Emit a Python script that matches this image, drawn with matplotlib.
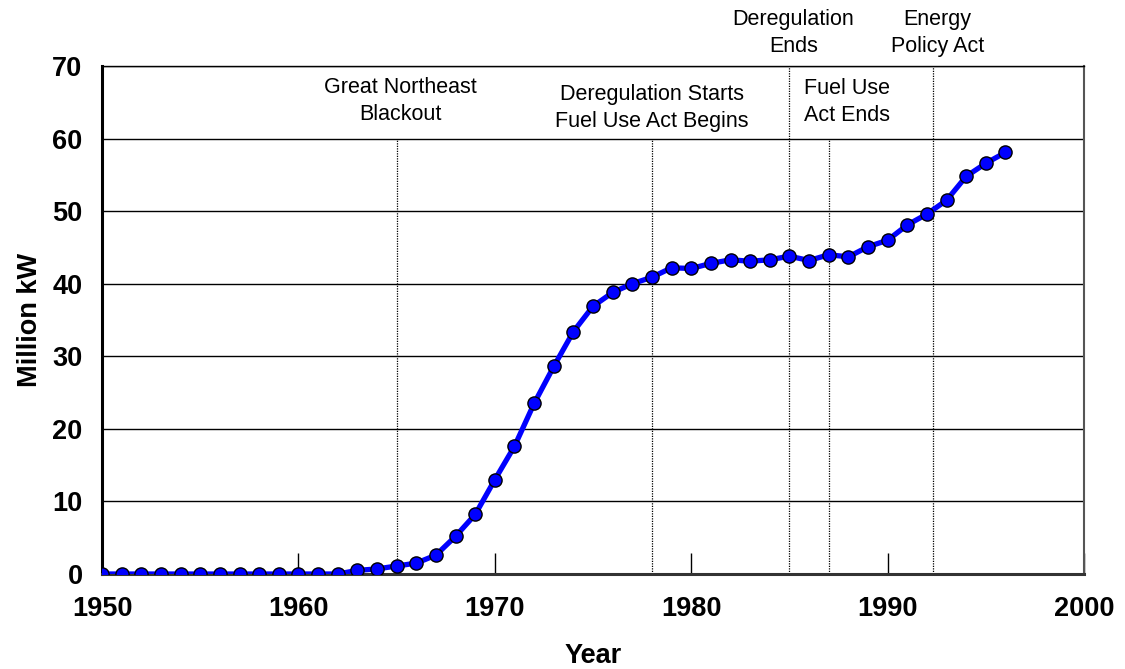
import matplotlib.pyplot as plt

plt.rcParams['font.family'] = ['Liberation Sans', 'DejaVu Sans']

# Dados
anos = list(range(1950, 1997))
capacidade = [0.0, 0.0, 0.0, 0.0, 0.0, 0.0, 0.0, 0.0, 0.0, 0.0,
              0.0, 0.0, 0.0, 0.5, 0.7, 1.1, 1.5, 2.6, 5.2, 8.2,
              13.0, 17.6, 23.5, 28.6, 33.4, 36.9, 38.8, 40.0, 40.9, 42.2,
              42.1, 42.8, 43.3, 43.1, 43.3, 43.8, 43.2, 44.0, 43.7, 45.1,
              46.0, 48.1, 49.6, 51.5, 54.8, 56.6, 58.1]

eventos_anos = [1965, 1978, 1985, 1987, 1992.3]
eventos_topo = [60, 60, 70, 60, 70]
eventos_textos = ['Great Northeast\nBlackout', 'Deregulation Starts\nFuel Use Act Begins',
                  'Deregulation\nEnds', 'Fuel Use\nAct Ends', 'Energy\nPolicy Act']
textos_x = [1965.2, 1978.0, 1985.2, 1985.75, 1992.55]
textos_y = [65.2, 64.2, 74.5, 65.0, 74.5]
textos_ha = ['center', 'center', 'center', 'left', 'center']

fig = plt.figure(figsize=(11.25, 6.69), dpi=100)
ax = fig.add_axes([0.0907, 0.142, 0.8729, 0.7593])

# Linhas de grade horizontais
for v in range(10, 71, 10):
    ax.axhline(v, color='black', linewidth=1.0, zorder=1)

# Linhas verticais dos eventos
for ano, topo in zip(eventos_anos, eventos_topo):
    ax.plot([ano, ano], [0, topo], color='black', linewidth=0.9,
            linestyle=(0, (1, 1)), zorder=2, clip_on=False)

# Textos dos eventos
for x, y, texto, ha in zip(textos_x, textos_y, eventos_textos, textos_ha):
    ax.text(x, y, texto, ha=ha, va='center', fontsize=15.5,
            linespacing=1.38, multialignment=ha if ha == 'left' else 'center',
            clip_on=False)

ax.plot(anos, capacidade, color='#0000ff', linewidth=3.8, marker='o',
        markersize=9.5, markerfacecolor='#0000ff', markeredgecolor='black',
        markeredgewidth=1.0, zorder=3)

ax.set_xlim(1950, 2000)
ax.set_ylim(0, 70)
ax.set_xticks(range(1950, 2001, 10))
ax.set_yticks(range(0, 71, 10))
ax.tick_params(axis='x', direction='in', length=15, width=1, pad=16,
               labelsize=19.5)
ax.tick_params(axis='y', length=0, pad=14, labelsize=19.5)
for lbl in ax.get_xticklabels() + ax.get_yticklabels():
    lbl.set_fontweight('bold')

ax.set_xlabel('Year', fontsize=19.5, fontweight='bold', labelpad=15)
ax.set_ylabel('Million kW', fontsize=19.5, fontweight='bold', labelpad=7)

ax.spines['left'].set_linewidth(2.2)
ax.spines['left'].set_color('black')
ax.spines['bottom'].set_linewidth(2.2)
ax.spines['bottom'].set_color('#333333')
ax.spines['right'].set_linewidth(1.5)
ax.spines['right'].set_color('#555555')
ax.spines['top'].set_linewidth(1.0)

fig.savefig('out.png', dpi=100)
